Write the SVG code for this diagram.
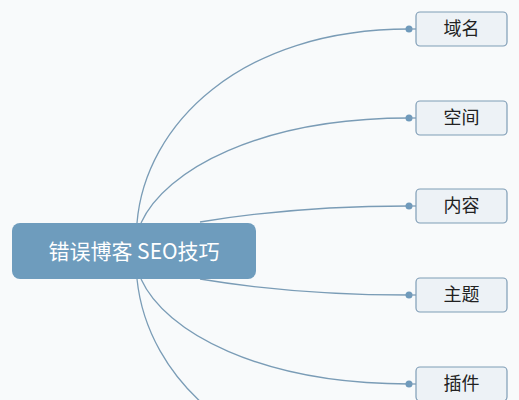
<svg xmlns="http://www.w3.org/2000/svg" width="519" height="400" viewBox="0 0 519 400">
<style>
.bg{fill:#f8fafb}
.root{fill:#6e9cbd}
.rootText{fill:#ffffff;font-family:"Noto Sans CJK SC","Noto Sans",sans-serif;font-size:21px}
.child{fill:#edf2f6;stroke:#7f9db6;stroke-width:1.2}
.childText{fill:#222;font-family:"Noto Sans CJK SC","Noto Sans",sans-serif;font-size:18px}
.link{fill:none;stroke:#7a9cb6;stroke-width:1.3}
.dot{fill:#6f9abb}
</style>
<rect class="bg" x="0" y="0" width="519" height="400"/>
<g id="connectors">
<path class="link" d="M137 223 C145 125 240 29 409 29"/>
<path class="link" d="M141 223 C165 170 260 118 409 118"/>
<path class="link" d="M200 222 C260 212 330 206 409 206"/>
<path class="link" d="M200 279 C260 289 330 295 409 295"/>
<path class="link" d="M141 279 C165 332 260 384 409 384"/>
<path class="link" d="M137 279 C147 377 240 473 409 473"/>
<circle class="dot" cx="409" cy="29" r="3.5"/>
<circle class="dot" cx="409" cy="118" r="3.5"/>
<circle class="dot" cx="409" cy="206" r="3.5"/>
<circle class="dot" cx="409" cy="295" r="3.5"/>
<circle class="dot" cx="409" cy="384" r="3.5"/>
<line class="link" x1="409" y1="29" x2="416" y2="29"/>
<line class="link" x1="409" y1="118" x2="416" y2="118"/>
<line class="link" x1="409" y1="206" x2="416" y2="206"/>
<line class="link" x1="409" y1="295" x2="416" y2="295"/>
<line class="link" x1="409" y1="384" x2="416" y2="384"/>
</g>
<g id="root">
<rect class="root" x="12" y="223" width="244" height="56" rx="8"/>
<text class="rootText" x="134" y="258.5" text-anchor="middle">错误博客 SEO技巧</text>
</g>
<g id="n1">
<rect class="child" x="416" y="12" width="91" height="34" rx="4"/>
<text class="childText" x="461.5" y="35" text-anchor="middle">域名</text>
</g>
<g id="n2">
<rect class="child" x="416" y="101" width="91" height="34" rx="4"/>
<text class="childText" x="461.5" y="124" text-anchor="middle">空间</text>
</g>
<g id="n3">
<rect class="child" x="416" y="189" width="91" height="34" rx="4"/>
<text class="childText" x="461.5" y="212" text-anchor="middle">内容</text>
</g>
<g id="n4">
<rect class="child" x="416" y="278" width="91" height="34" rx="4"/>
<text class="childText" x="461.5" y="301" text-anchor="middle">主题</text>
</g>
<g id="n5">
<rect class="child" x="416" y="367" width="91" height="34" rx="4"/>
<text class="childText" x="461.5" y="390" text-anchor="middle">插件</text>
</g>
</svg>
